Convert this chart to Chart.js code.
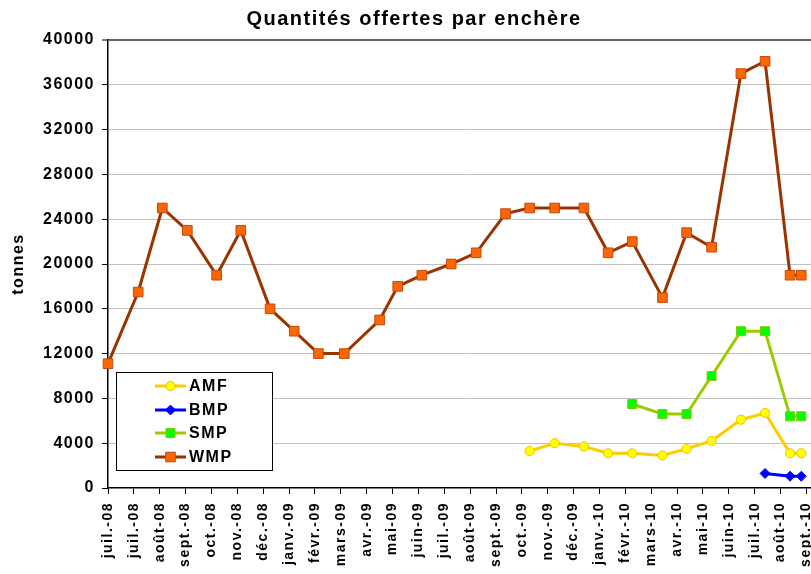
<!DOCTYPE html>
<html><head><meta charset="utf-8">
<style>html,body{margin:0;padding:0;background:#fff;overflow:hidden;width:811px;height:574px}
canvas{display:block}</style>
<script src="https://cdn.jsdelivr.net/npm/chart.js@4/dist/chart.umd.min.js"></script>
</head><body>
<canvas id="c" width="840" height="574" style="width:840px;height:574px"></canvas>
<script>
const chartTitle = 'Quantités offertes par enchère';
const yTitle = 'tonnes';
const seriesNames = ['AMF', 'BMP', 'SMP', 'WMP'];
const auctionDates = ['2008-07-01','2008-08-05','2008-09-02','2008-10-01','2008-11-04','2008-12-02',
  '2009-01-05','2009-02-02','2009-03-02','2009-04-01','2009-05-12','2009-06-02','2009-06-30',
  '2009-08-03','2009-09-01','2009-10-05','2009-11-02','2009-12-01','2010-01-04','2010-02-01',
  '2010-03-01','2010-04-05','2010-05-03','2010-06-01','2010-07-05','2010-08-02','2010-08-31','2010-09-13'];
const xTickLabels = ['juil.-08','juil.-08','août-08','sept.-08','oct.-08','nov.-08','déc.-08',
  'janv.-09','févr.-09','mars-09','avr.-09','mai-09','juin-09','juil.-09','août-09','sept.-09',
  'oct.-09','nov.-09','déc.-09','janv.-10','févr.-10','mars-10','avr.-10','mai-10','juin-10',
  'juil.-10','août-10','sept.-10'];
const yTicks = [0,4000,8000,12000,16000,20000,24000,28000,32000,36000,40000];
const wmp = [11100,17500,25000,23000,19000,23000,16000,14000,12000,12000,15000,18000,19000,20000,
  21000,24500,25000,25000,25000,21000,22000,17000,22800,21500,37000,38100,19000,19000];
const amf = [null,null,null,null,null,null,null,null,null,null,null,null,null,null,null,null,
  3300,4000,3700,3100,3100,2900,3500,4200,6100,6700,3100,3100];
const smp = [null,null,null,null,null,null,null,null,null,null,null,null,null,null,null,null,
  null,null,null,null,7500,6600,6600,10000,14000,14000,6400,6400];
const bmp = [null,null,null,null,null,null,null,null,null,null,null,null,null,null,null,null,
  null,null,null,null,null,null,null,null,null,1300,1050,1050];

const DAY = 86400000;
const ORIGIN = Date.UTC(2008, 6, 1);
function dayOf(s) { const [y, m, d] = s.split('-').map(Number); return (Date.UTC(y, m - 1, d) - ORIGIN) / DAY; }
function pts(vals) { return auctionDates.map((d, i) => ({x: dayOf(d), y: vals[i]})).filter(p => p.y !== null); }

const FONT = "'Liberation Sans', Arial, sans-serif";
const SPACING = '1.5px';
Chart.defaults.font.family = FONT;
Chart.defaults.color = '#000';

const spacing = {
  id: 'spacing',
  beforeLayout(c) { c.ctx.letterSpacing = SPACING; },
  beforeDraw(c) { c.ctx.letterSpacing = SPACING; }
};

function marker(ctx, style, r, x, y, fill, stroke) {
  ctx.beginPath();
  if (style === 'circle') { ctx.arc(x, y, r, 0, Math.PI * 2); }
  else if (style === 'rect') { const s = r * Math.SQRT1_2; ctx.rect(x - s, y - s, 2 * s, 2 * s); }
  else { ctx.moveTo(x - r, y); ctx.lineTo(x, y - r); ctx.lineTo(x + r, y); ctx.lineTo(x, y + r); ctx.closePath(); }
  ctx.fillStyle = fill; ctx.fill();
  ctx.lineWidth = 1; ctx.strokeStyle = stroke; ctx.stroke();
}

const boxLegend = {
  id: 'boxLegend',
  afterDatasetsDraw(chart) {
    const ctx = chart.ctx;
    ctx.save();
    ctx.fillStyle = '#fff'; ctx.strokeStyle = '#000'; ctx.lineWidth = 1;
    ctx.fillRect(116.5, 372.5, 156, 98); ctx.strokeRect(116.5, 372.5, 156, 98);
    const rows = [386, 410, 433, 457];
    chart.data.datasets.forEach((ds, i) => {
      const y = rows[i];
      ctx.strokeStyle = ds.borderColor; ctx.lineWidth = 3;
      ctx.beginPath(); ctx.moveTo(155, y); ctx.lineTo(186, y); ctx.stroke();
      marker(ctx, ds.pointStyle, ds.pointRadius, 170.5, y, ds.pointBackgroundColor, ds.pointBorderColor);
      ctx.fillStyle = '#000';
      ctx.font = 'bold 16px ' + FONT;
      ctx.letterSpacing = SPACING;
      ctx.textAlign = 'left'; ctx.textBaseline = 'middle';
      ctx.fillText(ds.label, 189, y + 1);
    });
    ctx.restore();
  }
};

new Chart(document.getElementById('c'), {
  type: 'line',
  data: {
    datasets: [
      {label: seriesNames[0], data: pts(amf), borderColor: '#FFCC00', borderWidth: 3,
       pointStyle: 'circle', pointRadius: 4.6, pointBackgroundColor: '#FFFF00', pointBorderColor: '#F2C200', pointBorderWidth: 1},
      {label: seriesNames[1], data: pts(bmp), borderColor: '#0000FF', borderWidth: 3,
       pointStyle: 'rectRot', pointRadius: 5, pointBackgroundColor: '#0000FF', pointBorderColor: '#0000FF', pointBorderWidth: 1},
      {label: seriesNames[2], data: pts(smp), borderColor: '#99CC00', borderWidth: 3,
       pointStyle: 'rect', pointRadius: 6.4, pointBackgroundColor: '#00FF00', pointBorderColor: '#88C800', pointBorderWidth: 1},
      {label: seriesNames[3], data: pts(wmp), borderColor: '#993300', borderWidth: 3,
       pointStyle: 'rect', pointRadius: 6.8, pointBackgroundColor: '#FF6600', pointBorderColor: '#C04A10', pointBorderWidth: 1}
    ]
  },
  options: {
    responsive: false, animation: false, devicePixelRatio: 1,
    clip: false,
    elements: {line: {tension: 0}},
    layout: {padding: {left: 0, right: 12, top: 0, bottom: 0}},
    plugins: {
      legend: {display: false},
      tooltip: {enabled: false},
      title: {display: true, text: chartTitle, color: '#000',
        font: {family: FONT, size: 20, weight: 'bold', lineHeight: 1.2},
        padding: {top: 7, bottom: 9}}
    },
    scales: {
      x: {
        type: 'linear', min: 0, max: 835,
        afterBuildTicks(s) { s.ticks = xTickLabels.map((_, i) => ({value: i * 30})); },
        ticks: {autoSkip: false, maxRotation: 90, minRotation: 90, includeBounds: false, color: '#000',
          font: {family: FONT, size: 14, weight: 'bold'}, padding: 8,
          callback: (v) => xTickLabels[Math.round(v / 30)]},
        grid: {drawOnChartArea: false, drawTicks: true, tickColor: '#000', tickLength: 6, tickWidth: 1},
        border: {color: '#000', width: 1.5},
        afterFit(s) { s.height = 86; }
      },
      y: {
        min: 0, max: 40000,
        afterBuildTicks(s) { s.ticks = yTicks.map(v => ({value: v})); },
        ticks: {color: '#000', font: {family: FONT, size: 16, weight: 'bold'}, padding: 7,
          callback: (v) => String(v)},
        grid: {
          color: (c) => c.tick && c.tick.value === 40000 ? '#666666' : (c.tick && c.tick.value === 0 ? 'rgba(0,0,0,0)' : '#c0c0c0'),
          lineWidth: (c) => c.tick && c.tick.value === 40000 ? 2 : 1,
          tickColor: '#000', tickLength: 6, tickWidth: 1, drawTicks: true
        },
        border: {color: '#000', width: 1.5},
        title: {display: true, text: yTitle, color: '#000', font: {family: FONT, size: 16, weight: 'bold', lineHeight: 1.2},
          padding: {top: 9, bottom: 0}},
        afterFit(s) { s.width = 108; }
      }
    }
  },
  plugins: [spacing, boxLegend]
});
</script>
</body></html>
